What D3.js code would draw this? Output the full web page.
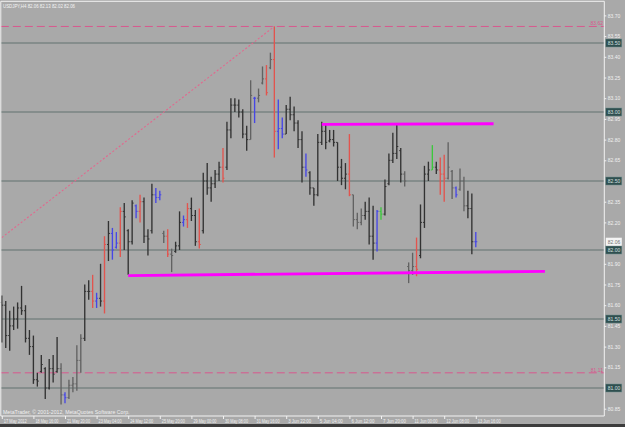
<!DOCTYPE html>
<html><head><meta charset="utf-8">
<script src="https://cdn.jsdelivr.net/npm/d3@7"></script>
<style>
html,body{margin:0;padding:0;background:#a9a9a9;}
svg{display:block;font-family:"Liberation Sans",Arial,sans-serif;}
</style></head>
<body>
<svg id="c" width="625" height="427"></svg>
<script>
// ---- data (USDJPY, H4) ----
const symbolTitle = "USDJPY,H4  82.06 82.13 82.02 82.06";
const watermark = "MetaTrader, \u00A9 2001-2012, MetaQuotes Software Corp.";
const openP = [81.62,81.60,81.38,81.45,81.50,81.58,81.56,81.36,81.30,81.06, 81.12,81.14,81.00,81.14,81.12,81.14,80.95,80.93,81.02,81.03, 81.20,81.36,81.70,81.70,81.63,81.65,81.63,82.04,82.12,82.02, 82.05,82.28,82.14,82.06,82.32,82.28,82.35,82.10,82.14,82.40, 82.38,82.12,82.10,81.97,81.99,82.03,82.20,82.22,82.30,82.25, 82.06,82.14,82.50,82.45,82.48,82.55,82.60,82.60,82.87,83.05, 83.05,83.00,82.84,82.80,83.10,83.10,83.21,83.24,83.32,83.38, 82.86,82.88,82.84,83.02,82.98,82.92,82.80,82.60,82.56,82.45, 82.40,82.78,82.86,82.79,82.80,82.78,82.60,82.52,82.55,82.40, 82.22,82.20,82.25,82.28,82.10,82.05,82.28,82.26,82.48,82.65, 82.70,82.72,82.55,81.88,81.85,81.88,81.96,82.20,82.55,82.58, 82.60,82.58,82.55,82.52,82.57,82.45,82.44,82.50,82.32,82.30, 82.06];
const highP = [81.67,81.63,81.56,81.59,81.62,81.74,81.60,81.42,81.38,81.11, 81.24,81.15,81.21,81.24,81.37,81.18,80.97,81.06,81.08,81.31, 81.39,81.75,81.78,81.82,81.69,81.90,82.10,82.21,82.16,82.13, 82.31,82.34,82.15,82.36,82.33,82.40,82.38,82.15,82.48,82.45, 82.43,82.14,82.15,82.01,82.06,82.28,82.25,82.34,82.38,82.29, 82.30,82.56,82.63,82.53,82.58,82.64,82.74,82.93,83.10,83.10, 83.09,83.02,82.90,83.23,83.11,83.17,83.33,83.34,83.43,83.62, 83.09,82.96,83.05,83.11,83.04,82.94,82.86,82.70,82.57,82.45, 82.84,82.93,82.92,82.87,82.87,82.78,82.66,82.63,82.84,82.40, 82.27,82.30,82.35,82.38,82.32,82.29,82.31,82.51,82.70,82.85, 82.92,82.74,82.57,81.91,81.98,82.09,82.33,82.61,82.64,82.76, 82.64,82.67,82.69,82.78,82.58,82.46,82.59,82.53,82.43,82.41, 82.13];
const lowP = [81.33,81.29,81.27,81.42,81.43,81.53,81.33,81.24,81.03,81.01, 81.11,80.92,80.99,81.04,81.11,80.88,80.89,80.92,80.97,80.98, 81.11,81.34,81.64,81.58,81.58,81.59,81.54,81.92,81.93,82.01, 81.95,82.00,81.82,82.04,82.23,82.20,82.05,81.96,82.12,82.34, 82.36,82.05,81.95,81.84,81.98,82.00,82.17,82.16,82.21,82.03, 82.01,82.12,82.40,82.35,82.45,82.50,82.49,82.58,82.81,83.00, 82.96,82.81,82.72,82.80,82.92,83.07,83.20,83.12,83.31,82.67, 82.73,82.81,82.84,82.94,82.86,82.74,82.49,82.53,82.40,82.32, 82.39,82.76,82.73,82.78,82.75,82.50,82.47,82.44,82.39,82.17, 82.15,82.18,82.22,82.04,81.93,81.99,82.22,82.25,82.47,82.63, 82.66,82.49,82.46,81.76,81.82,81.81,81.94,82.16,82.50,82.58, 82.55,82.40,82.35,82.51,82.37,82.38,82.43,82.28,82.23,81.97, 82.02];
const closeP = [81.60,81.38,81.45,81.50,81.58,81.56,81.36,81.30,81.06,81.05, 81.17,81.00,81.14,81.10,81.14,80.95,80.93,81.02,81.03,81.20, 81.36,81.70,81.70,81.63,81.65,81.63,82.04,82.12,82.00,82.05, 82.28,82.24,82.06,82.34,82.28,82.35,82.10,82.08,82.40,82.38, 82.40,82.10,81.97,81.96,82.03,82.20,82.22,82.30,82.25,82.06, 82.04,82.50,82.45,82.48,82.55,82.60,82.52,82.87,83.05,83.05, 83.00,82.84,82.80,83.12,83.10,83.12,83.24,83.14,83.38,82.86, 82.88,82.84,83.02,82.98,82.92,82.80,82.60,82.58,82.45,82.40, 82.78,82.86,82.78,82.80,82.78,82.60,82.52,82.55,82.40,82.22, 82.20,82.25,82.28,82.10,82.05,82.28,82.26,82.46,82.65,82.70, 82.75,82.55,82.50,81.85,81.88,81.86,82.20,82.55,82.58,82.60, 82.58,82.55,82.52,82.60,82.45,82.40,82.50,82.32,82.30,82.06, 82.06];
// bar colour class: k dark, g light gray, r red, b blue, n green
const barColour = ["kkkkkkkkkk","kkkkkgbggg","gkkrbkrkbb","rkkkbrkkkb","bgrgkkbrkk","rkkkkkrkkk","kkkgbggrgr","bbkkkkkbkk","kkkkkkkkrg","ggkkkbnkkk","kkgggrkkkn","krrggbggkk","b"].join("").split("");
const timeLabels = ["17 May 2012","18 May 16:00","21 May 20:00","23 May 04:00","24 May 12:00","25 May 20:00","29 May 00:00","30 May 08:00","31 May 16:00","3 Jun 22:00","5 Jun 04:00","6 Jun 12:00","7 Jun 20:00","11 Jun 00:00","12 Jun 08:00","13 Jun 16:00"];
const timeLabelIndex = [0,8,16,24,32,40,48,56,64,72,80,88,96,104,112,120];
// price scale labels that are visible (others are covered by the level boxes)
const priceTicks = [83.70,83.55,83.40,83.25,83.10,82.95,82.80,82.65,82.35,82.20,81.90,81.75,81.60,81.45,81.30,81.15,80.85];
const levelLines = [83.50,83.00,82.50,82.00,81.50,81.00];
const dashedLevels = [83.62,81.11];
const currentPrice = 82.06;
// trend lines: [index1, price1, index2, price2]
const dottedTrend = [0,82.09,69,83.62];
const magentaLines = [[81,82.91,124.5,82.915],[32,81.815,137.5,81.845]];

// ---- drawing ----
const svg = d3.select("#c");
const W=625,H=427;
const pLeft=0.8, pRight=604.3, pTop=1.3, pBottom=416;
const x = d3.scaleLinear().domain([0,120]).range([1.8,475.8]);
const y = d3.scaleLinear().domain([81,83.5]).range([388,43]);
const col = {k:"#323232",g:"#626262",r:"#e2544e",b:"#4646e6",n:"#3cc83c"};

svg.append("rect").attr("width",W).attr("height",H).attr("fill","#a9a9a9");
svg.append("rect").attr("x",0).attr("y",424).attr("width",W).attr("height",3).attr("fill","#3c3c3c");

const plot = svg.append("g");
plot.selectAll(".lvl").data(levelLines).enter().append("line")
  .attr("x1",pLeft).attr("x2",pRight).attr("y1",d=>y(d)).attr("y2",d=>y(d))
  .attr("stroke","#627270").attr("stroke-width",1.2);
plot.selectAll(".dl").data(dashedLevels).enter().append("line")
  .attr("x1",pLeft).attr("x2",pRight).attr("y1",d=>y(d)).attr("y2",d=>y(d))
  .attr("stroke","#d8588e").attr("stroke-width",1).attr("stroke-dasharray","8,4");
plot.selectAll(".dlt").data(dashedLevels).enter().append("text")
  .attr("x",603).attr("y",d=>y(d)-1).attr("text-anchor","end")
  .attr("font-size",5).attr("fill","#d8588e").text(d=>d.toFixed(2));
plot.append("line")
  .attr("x1",x(dottedTrend[0])).attr("y1",y(dottedTrend[1]))
  .attr("x2",x(dottedTrend[2])).attr("y2",y(dottedTrend[3]))
  .attr("stroke","#e2688e").attr("stroke-width",1.1).attr("stroke-dasharray","2,2");

const idx = d3.range(openP.length);
const bars = plot.selectAll(".bar").data(idx).enter().append("g")
  .attr("stroke",i=>col[barColour[i]]).attr("stroke-width",1.35);
bars.append("line").attr("x1",i=>x(i)).attr("x2",i=>x(i))
  .attr("y1",i=>y(highP[i])).attr("y2",i=>y(lowP[i]));
bars.append("line").attr("x1",i=>x(i)-1.5).attr("x2",i=>x(i))
  .attr("y1",i=>y(openP[i])).attr("y2",i=>y(openP[i])).attr("stroke-width",1);
bars.append("line").attr("x1",i=>x(i)).attr("x2",i=>x(i)+1.5)
  .attr("y1",i=>y(closeP[i])).attr("y2",i=>y(closeP[i])).attr("stroke-width",1);

plot.selectAll(".mg").data(magentaLines).enter().append("line")
  .attr("x1",d=>x(d[0])).attr("y1",d=>y(d[1]))
  .attr("x2",d=>x(d[2])).attr("y2",d=>y(d[3]))
  .attr("stroke","#ff00ff").attr("stroke-width",2.8);

svg.append("path").attr("d",`M${pLeft},${pBottom} L${pLeft},${pTop} L${pRight},${pTop} L${pRight},${pBottom} Z`)
  .attr("fill","none").attr("stroke","#f2f2f2").attr("stroke-width",1);

const ay = svg.append("g").attr("transform",`translate(${pRight},0)`)
  .call(d3.axisRight(y).tickValues(priceTicks).tickSize(2).tickFormat(d3.format(".2f")));
ay.select(".domain").remove();
ay.selectAll("line").attr("stroke","#f2f2f2");
ay.selectAll("text").attr("x",3.5).attr("font-size",5).attr("fill","#f0f0f0").attr("font-family","Liberation Sans, Arial");

const lb = svg.selectAll(".lb").data(levelLines).enter().append("g")
  .attr("transform",d=>`translate(${pRight+1.5},${y(d)})`);
lb.append("rect").attr("x",0).attr("y",-4).attr("width",16).attr("height",8).attr("fill","#2f4f4f").attr("stroke","#6f8f8f").attr("stroke-width",0.5);
lb.append("text").attr("x",2).attr("y",1.8).attr("font-size",5).attr("fill","#d8e0e0").text(d=>d.toFixed(2));
const cp = svg.append("g").attr("transform",`translate(${pRight+1.5},${y(currentPrice)})`);
cp.append("rect").attr("x",0).attr("y",-4).attr("width",16).attr("height",8).attr("fill","#f4f4f4");
cp.append("text").attr("x",2).attr("y",1.8).attr("font-size",5).attr("fill","#707070").text(currentPrice.toFixed(2));

const ax = svg.append("g").attr("transform",`translate(0,${pBottom})`)
  .call(d3.axisBottom(x).tickValues(timeLabelIndex).tickSize(3).tickFormat((d,i)=>timeLabels[i]));
ax.select(".domain").remove();
ax.selectAll("line").attr("stroke","#f2f2f2");
ax.selectAll("text").attr("text-anchor","start").attr("x",1.5).attr("y",6.5).attr("dy",0)
  .attr("font-size",5).attr("fill","#f0f0f0").attr("textLength",23).attr("lengthAdjust","spacingAndGlyphs");

svg.append("text").attr("x",3).attr("y",8).attr("font-size",5.2).attr("fill","#f4f4f4")
  .attr("textLength",72).attr("lengthAdjust","spacingAndGlyphs").text(symbolTitle);
svg.append("text").attr("x",3).attr("y",414).attr("font-size",5.2).attr("fill","#f0f0f0").text(watermark);
</script>
</body></html>
